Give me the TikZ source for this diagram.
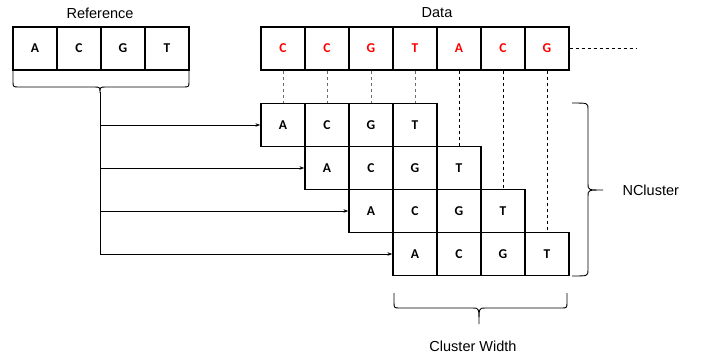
\documentclass[tikz,border=0pt]{standalone}
\usepackage{fontspec}
\setmainfont{Liberation Sans}
\newfontfamily\cellfont{Carlito}
\usetikzlibrary{arrows.meta}
\begin{document}
\begin{tikzpicture}[x=1pt,y=-1pt,
  cell/.style={draw,line width=1.3pt,minimum width=44pt,minimum height=43pt,inner sep=0pt,font=\cellfont\bfseries\fontsize{13.5}{13.5}\selectfont},
  dcell/.style={cell,text=red},
  lbl/.style={font=\fontsize{14.5}{16}\selectfont},
  arr/.style={line width=0.9pt,-{Stealth[length=5pt,width=3.5pt]}},
  gdash/.style={gray!85!black,line width=1pt,dash pattern=on 3.5pt off 2.5pt},
  bdash/.style={black,line width=1pt,dash pattern=on 3.5pt off 2.5pt},
  brc/.style={line width=0.9pt}]
\useasboundingbox (0,0) rectangle (701,360);
% reference
\foreach \l [count=\i] in {A,C,G,T}
  \node[cell] (r\i) at ({35+44*(\i-1)},48.5) {\l};
\node[lbl] (reflbl) at (100,13) {Reference};
% data
\foreach \l [count=\i] in {C,C,G,T,A,C,G}
  \node[dcell] (d\i) at ({283+44*(\i-1)},48.5) {\l};
\node[lbl] (datalbl) at (437,13) {Data};
\coordinate (dend) at (636,48.5);
\draw[bdash] (d7.east) -- (dend);
% cluster rows
\foreach \rr/\yy in {1/125,2/168,3/211,4/254}{
  \foreach \l [count=\i] in {A,C,G,T}
    \node[cell] (c\rr\i) at ({283+44*(\rr-1)+44*(\i-1)},\yy) {\l};
}
% dashed alignments
\foreach \i in {1,2,3,4}
  \draw[gdash] (d\i.south) -- (c1\i.north);
\draw[bdash] (d5.south) -- (c24.north);
\draw[bdash] (d6.south) -- (c34.north);
\draw[bdash] (d7.south) -- (c44.north);
% reference brace
\draw[brc] (13,70) -- (13,81) .. controls (13,87) .. (19,87) -- (94,87) .. controls (100,87) .. (100,93)
  .. controls (100,87) .. (106,87) -- (183,87) .. controls (189,87) .. (189,81) -- (189,70);
\coordinate (tip) at (100,92);
\coordinate (t1) at (100,125);
\coordinate (t2) at (100,168);
\coordinate (t3) at (100,211);
\coordinate (t4) at (100,254);
\draw[line width=0.9pt] (tip) -- (t4);
\draw[arr] (t1) -- (c11.west);
\draw[arr] (t2) -- (c21.west);
\draw[arr] (t3) -- (c31.west);
\draw[arr] (t4) -- (c41.west);
% NCluster brace
\draw[brc] (572,103) .. controls (588,103) .. (588,109) -- (588,184) .. controls (588,190) .. (603,190)
  .. controls (588,190) .. (588,196) -- (588,270) .. controls (588,276) .. (572,276);
\node[lbl,anchor=west] (ncl) at (619,190) {NCluster};
% cluster width brace
\draw[brc] (394,293) -- (394,302) .. controls (394,308) .. (400,308) -- (473,308) .. controls (479,308) .. (479,324)
  .. controls (479,308) .. (485,308) -- (561,308) .. controls (567,308) .. (567,302) -- (567,293);
\node[lbl] (cwlbl) at (473,346) {Cluster Width};
\end{tikzpicture}
\end{document}
